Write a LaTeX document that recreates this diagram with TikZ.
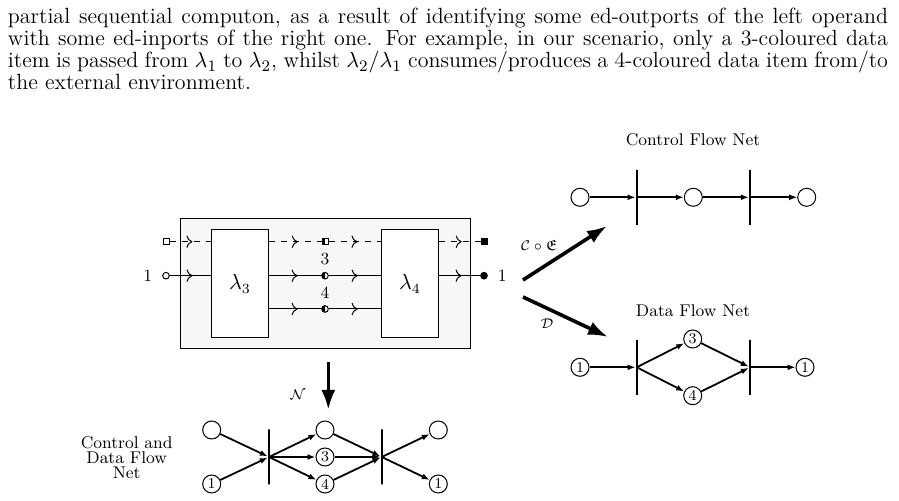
\documentclass[tikz,border=0pt]{standalone}
\usepackage{amsmath,amssymb}
\usetikzlibrary{arrows.meta,positioning,decorations.markings}

\tikzset{
  netplace/.style={circle, draw, line width=0.5pt, minimum size=9pt, inner sep=0pt,
    font=\fontsize{7.5}{8}\selectfont},
  nettrans/.style={draw, line width=1.2pt, minimum width=0pt, minimum height=27.5pt, inner sep=0pt},
  netarc/.style={line width=0.9pt, -{Latex[length=4pt,width=3pt]}},
  bigarrow/.style={line width=1.8pt, -{Latex[length=10pt,width=7pt]}},
  flow/.style={postaction={decorate},
    decoration={markings, mark=at position 0.55 with {\arrow{To[scale=1.1]}}}},
  port/.style={circle, draw, line width=0.5pt, fill=white, minimum size=3.3pt, inner sep=0pt},
  sqport/.style={draw, line width=0.5pt, fill=white, minimum size=3pt, inner sep=0pt},
  lbl/.style={font=\fontsize{8.5}{9}\selectfont},
  title/.style={font=\fontsize{8.5}{9}\selectfont},
  maplbl/.style={font=\fontsize{7.5}{8}\selectfont}
}

\begin{document}
\begin{tikzpicture}[x=0.5pt, y=-0.5pt, line width=0.5pt]
    \useasboundingbox (0,0) rectangle (899,501);

    % Text above the figure
    \node[anchor=north west, inner sep=0pt, align=left, font=\fontsize{11}{11}\selectfont] (para) at (7.5,8) {%
      \makebox[440pt][s]{partial sequential computon, as a result of identifying some ed-outports of the left operand}\\
      \makebox[440pt][s]{with some ed-inports of the right one. For example, in our scenario, only a 3-coloured data}\\
      \makebox[440pt][s]{item is passed from $\lambda_1$ to $\lambda_2$, whilst $\lambda_2/\lambda_1$ consumes/produces a 4-coloured data item from/to}\\
      the external environment.};

    % Composed computon
    \node[draw, fill=black!3, minimum width=145pt, minimum height=65pt, inner sep=0pt] (comp) at (325,284) {};
    \node[draw, fill=white, minimum width=28.3pt, minimum height=54pt, inner sep=0pt,
      font=\fontsize{10.5}{11}\selectfont] (l3) at (240,284) {$\lambda_3$};
    \node[draw, fill=white, minimum width=28.3pt, minimum height=54pt, inner sep=0pt,
      font=\fontsize{10.5}{11}\selectfont] (l4) at (410,284) {$\lambda_4$};

    % Ports
    \node[sqport] (inD) at (166,241.7) {};
    \node[port] (in1) at (166,275.7) {};
    \node[sqport] (midD) at (325,241.7) {};
    \node[port] (mid3) at (325,275.7) {};
    \node[port] (mid4) at (325,309) {};
    \node[sqport, fill=black] (outD) at (484,241.7) {};
    \node[port, fill=black] (out1) at (484,275.7) {};

    % Lines
    \draw[dashed, flow] (inD) -- (inD -| l3.west);
    \draw[flow] (in1) -- (in1 -| l3.west);
    \draw[dashed, flow] (midD -| l3.east) -- (midD);
    \draw[flow] (mid3 -| l3.east) -- (mid3);
    \draw[flow] (mid4 -| l3.east) -- (mid4);
    \draw[dashed, flow] (midD) -- (midD -| l4.west);
    \draw[flow] (mid3) -- (mid3 -| l4.west);
    \draw[flow] (mid4) -- (mid4 -| l4.west);
    \draw[dashed, flow] (outD -| l4.east) -- (outD);
    \draw[flow] (out1 -| l4.east) -- (out1);

    % Half filled middle ports
    \fill (midD.north west) rectangle (midD.south);
    \fill (mid3.north) arc[start angle=90, end angle=270, radius=1.65pt] -- cycle;
    \fill (mid4.north) arc[start angle=90, end angle=270, radius=1.65pt] -- cycle;

    % Port labels
    \node[lbl, left=1.5pt of in1] {1};
    \node[lbl, right=1.5pt of out1] {1};
    \node[lbl, above=0pt of mid3] {3};
    \node[lbl, above=0pt of mid4] {4};

    % Mappings
    \coordinate (ceS) at (523,280);
    \coordinate (ceE) at (607,226);
    \coordinate (dS) at (523,297);
    \coordinate (dE) at (608,337);
    \coordinate (nS) at (328.3,362);
    \coordinate (nE) at (328.3,410);
    \draw[bigarrow] (ceS) -- (ceE);
    \draw[bigarrow] (dS) -- (dE);
    \draw[bigarrow] (nS) -- (nE);
    \node[maplbl] at (539,245) {$\mathcal{C}\circ\mathfrak{E}$};
    \node[maplbl] at (547,324) {$\mathcal{D}$};
    \node[maplbl] at (298,395) {$\mathcal{N}$};

    % Control flow net
    \node[title] at (693,140) {Control Flow Net};
    \node[netplace] (c1) at (580,197.3) {};
    \node[nettrans] (ct1) at (636.7,197.3) {};
    \node[netplace] (c2) at (693.3,197.3) {};
    \node[nettrans] (ct2) at (750,197.3) {};
    \node[netplace] (c3) at (806.7,197.3) {};
    \draw[netarc] (c1) -- (ct1);
    \draw[netarc] (ct1) -- (c2);
    \draw[netarc] (c2) -- (ct2);
    \draw[netarc] (ct2) -- (c3);

    % Data flow net
    \node[title] at (693,311) {Data Flow Net};
    \node[netplace] (d1) at (580,367.3) {1};
    \node[nettrans] (dt1) at (636.7,367.3) {};
    \node[netplace] (d3) at (692.7,339) {3};
    \node[netplace] (d4) at (692.7,395.7) {4};
    \node[nettrans] (dt2) at (750,367.3) {};
    \node[netplace] (d1o) at (805,367.3) {1};
    \draw[netarc] (d1) -- (dt1);
    \foreach \p in {d3,d4} {
      \draw[netarc] (dt1) -- (\p);
      \draw[netarc] (\p) -- (dt2);
    }
    \draw[netarc] (dt2) -- (d1o);

    % Control and data flow net
    \node[title, align=center] at (126.7,458) {Control and\\[-1.5pt]Data Flow\\[-1.5pt]Net};
    \node[netplace] (b0) at (211.7,430) {};
    \node[netplace] (b1) at (211.7,484) {1};
    \node[nettrans] (bt1) at (269,457) {};
    \node[netplace] (bc) at (325,430) {};
    \node[netplace] (b3) at (325,457) {3};
    \node[netplace] (b4) at (325,484) {4};
    \node[nettrans] (bt2) at (381.7,457) {};
    \node[netplace] (bo0) at (438.3,430) {};
    \node[netplace] (bo1) at (438.3,484) {1};
    \foreach \p in {b0,b1} \draw[netarc] (\p) -- (bt1);
    \foreach \p in {bc,b3,b4} {
      \draw[netarc] (bt1) -- (\p);
      \draw[netarc] (\p) -- (bt2);
    }
    \foreach \p in {bo0,bo1} \draw[netarc] (bt2) -- (\p);
\end{tikzpicture}
\end{document}
